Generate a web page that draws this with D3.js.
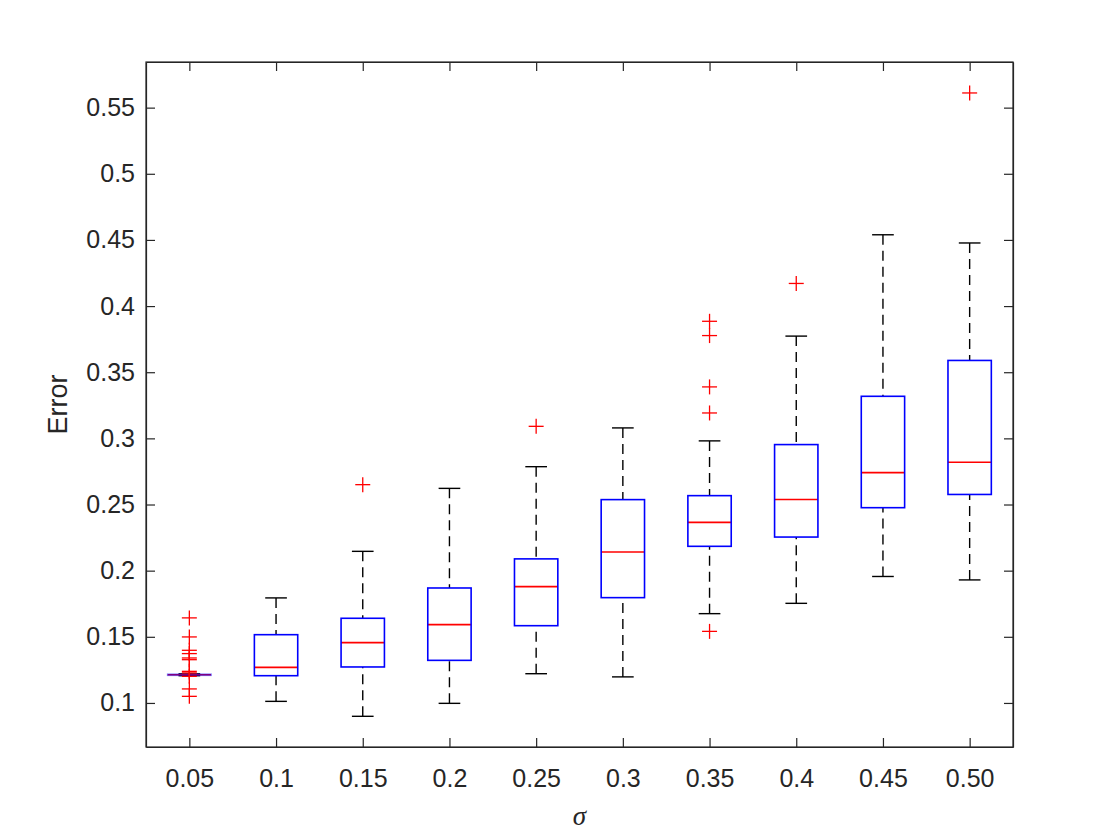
<!DOCTYPE html>
<html>
<head>
<meta charset="utf-8">
<script src="https://cdn.jsdelivr.net/npm/d3@7/dist/d3.min.js"></script>
<style>
  html, body { margin: 0; padding: 0; background: #fff; }
  svg { display: block; }
</style>
</head>
<body>
<script>
// ---- data ----
const categories = ["0.05", "0.1", "0.15", "0.2", "0.25", "0.3", "0.35", "0.4", "0.45", "0.50"];
const whiskerLow  = [0.1206, 0.1012, 0.0899, 0.0997, 0.1221, 0.1197, 0.1675, 0.1753, 0.1956, 0.1930];
const q1          = [0.1209, 0.1206, 0.1272, 0.1322, 0.1584, 0.1796, 0.2184, 0.2254, 0.2476, 0.2576];
const medians     = [0.1213, 0.1269, 0.1456, 0.1592, 0.1879, 0.2141, 0.2365, 0.2538, 0.2741, 0.2820];
const q3          = [0.1217, 0.1516, 0.1640, 0.1869, 0.2089, 0.2537, 0.2567, 0.2953, 0.3318, 0.3589];
const whiskerHigh = [0.1220, 0.1794, 0.2146, 0.2622, 0.2786, 0.3079, 0.2981, 0.3773, 0.4539, 0.4477];
const outliers = [
  [0.1643, 0.1499, 0.1398, 0.1373, 0.1340, 0.1327, 0.1239, 0.1227, 0.1201, 0.1106, 0.1050],
  [],
  [0.2650],
  [],
  [0.3091],
  [],
  [0.3885, 0.3777, 0.3389, 0.3192, 0.1541],
  [0.4171],
  [],
  [0.5611]
];
const yTickValues = [0.1, 0.15, 0.2, 0.25, 0.3, 0.35, 0.4, 0.45, 0.5, 0.55];
const yTickLabels = ["0.1", "0.15", "0.2", "0.25", "0.3", "0.35", "0.4", "0.45", "0.5", "0.55"];
const yDomain = [0.0667, 0.5845];

// ---- layout ----
const W = 1120, H = 840;
const L = 146, R = 1013, T = 62, B = 747;
const axisColor = "#262626";
const font = "'Liberation Sans', Arial, Helvetica, sans-serif";

const svg = d3.select("body").append("svg").attr("width", W).attr("height", H);
svg.append("rect").attr("width", W).attr("height", H).attr("fill", "#fff");

const x = d3.scaleLinear().domain([0.5, categories.length + 0.5]).range([L, R]);
const y = d3.scaleLinear().domain(yDomain).range([B, T]);

const idx = d3.range(categories.length);
const step = x(2) - x(1);
const boxW = step * 0.5;
const capW = step * 0.25;

const g = svg.append("g");

// whiskers (dashed)
g.selectAll(".wU").data(idx).join("line")
  .attr("x1", i => x(i + 1)).attr("x2", i => x(i + 1))
  .attr("y1", i => y(whiskerHigh[i])).attr("y2", i => y(q3[i]))
  .attr("stroke", "#000").attr("stroke-width", 1.4).attr("stroke-dasharray", "10,6");
g.selectAll(".wL").data(idx).join("line")
  .attr("x1", i => x(i + 1)).attr("x2", i => x(i + 1))
  .attr("y1", i => y(whiskerLow[i])).attr("y2", i => y(q1[i]))
  .attr("stroke", "#000").attr("stroke-width", 1.4).attr("stroke-dasharray", "10,6");
// caps
[whiskerHigh, whiskerLow].forEach(arr => {
  g.selectAll(null).data(idx).join("line")
    .attr("x1", i => x(i + 1) - capW / 2).attr("x2", i => x(i + 1) + capW / 2)
    .attr("y1", i => y(arr[i])).attr("y2", i => y(arr[i]))
    .attr("stroke", "#000").attr("stroke-width", 1.4);
});
// medians
g.selectAll(".med").data(idx).join("line")
  .attr("x1", i => x(i + 1) - boxW / 2).attr("x2", i => x(i + 1) + boxW / 2)
  .attr("y1", i => y(medians[i])).attr("y2", i => y(medians[i]))
  .attr("stroke", "#ff0000").attr("stroke-width", 1.6);
// boxes (semi-blended over medians where they coincide)
g.selectAll(".box").data(idx).join("rect")
  .attr("x", i => x(i + 1) - boxW / 2).attr("width", boxW)
  .attr("y", i => y(q3[i])).attr("height", i => Math.max(0.5, y(q1[i]) - y(q3[i])))
  .attr("fill", "none").attr("stroke", "#0000ff").attr("stroke-width", 1.6)
  .attr("stroke-opacity", i => (y(q1[i]) - y(q3[i]) < 3 ? 0.5 : 1));
// outliers (+)
const pts = [];
outliers.forEach((arr, i) => arr.forEach(v => pts.push({ i, v })));
const cs = 7.5;
const og = g.selectAll(".out").data(pts).join("g")
  .attr("transform", d => `translate(${x(d.i + 1)},${y(d.v)})`);
og.append("line").attr("x1", -cs).attr("x2", cs).attr("y1", 0).attr("y2", 0)
  .attr("stroke", "#ff0000").attr("stroke-width", 1.3);
og.append("line").attr("x1", 0).attr("x2", 0).attr("y1", -cs).attr("y2", cs)
  .attr("stroke", "#ff0000").attr("stroke-width", 1.3);

// ---- axes ----
const tickLen = 9;
const xAxisB = d3.axisBottom(x).tickValues(idx.map(i => i + 1)).tickFormat((d) => categories[d - 1])
  .tickSizeInner(-tickLen).tickSizeOuter(0).tickPadding(22);
const xAxisT = d3.axisTop(x).tickValues(idx.map(i => i + 1)).tickFormat("")
  .tickSizeInner(-tickLen).tickSizeOuter(0);
const yAxisL = d3.axisLeft(y).tickValues(yTickValues).tickFormat((d, k) => yTickLabels[k])
  .tickSizeInner(-tickLen).tickSizeOuter(0).tickPadding(11);
const yAxisR = d3.axisRight(y).tickValues(yTickValues).tickFormat("")
  .tickSizeInner(-tickLen).tickSizeOuter(0);

function style(sel) {
  sel.selectAll("path").attr("stroke", axisColor).attr("stroke-width", 1.2);
  sel.selectAll("line").attr("stroke", axisColor).attr("stroke-width", 1.2);
  sel.selectAll("text").attr("fill", axisColor).attr("font-family", font).attr("font-size", 25);
}
svg.append("g").attr("transform", `translate(0,${B})`).call(xAxisB).call(style);
svg.append("g").attr("transform", `translate(0,${T})`).call(xAxisT).call(style);
svg.append("g").attr("transform", `translate(${L},0)`).call(yAxisL).call(style);
svg.append("g").attr("transform", `translate(${R},0)`).call(yAxisR).call(style);
svg.selectAll(".domain").attr("stroke", axisColor);

// frame
svg.append("rect").attr("x", L).attr("y", T).attr("width", R - L).attr("height", B - T)
  .attr("fill", "none").attr("stroke", axisColor).attr("stroke-width", 1.2);

// labels
svg.append("text").attr("transform", `translate(67,${(T + B) / 2}) rotate(-90)`)
  .attr("text-anchor", "middle").attr("font-family", font).attr("font-size", 27)
  .attr("fill", axisColor).text("Error");
svg.append("text").attr("x", (L + R) / 2).attr("y", 825)
  .attr("text-anchor", "middle").attr("font-family", "'Liberation Serif', 'Times New Roman', serif")
  .attr("font-style", "italic").attr("font-size", 27).attr("fill", axisColor).text("σ");
</script>
</body>
</html>
